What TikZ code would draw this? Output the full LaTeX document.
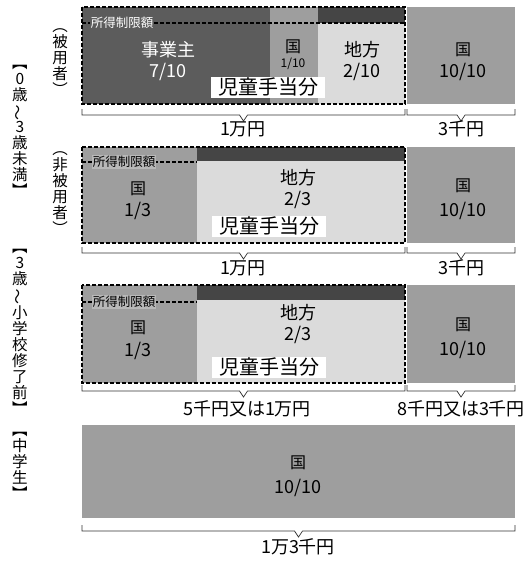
\documentclass[tikz,border=0pt]{standalone}
\usepackage{fontspec}
\setmainfont{Noto Sans CJK JP}
\usetikzlibrary{calc,positioning}
\definecolor{jigyo}{gray}{0.36}
\definecolor{kuni}{gray}{0.62}
\definecolor{chiho}{gray}{0.86}
\definecolor{seigen}{gray}{0.27}
\definecolor{seigenbg}{gray}{0.72}
\begin{document}
\begin{tikzpicture}[x=1pt,y=-1pt,lbl/.style={inner sep=0pt, font=\fontsize{18}{20}\selectfont}, scale=1]
\tikzstyle{small}=[inner sep=0pt, font=\fontsize{12}{14}\selectfont]
\tikzstyle{kanji}=[inner sep=0pt, font=\fontsize{16}{18}\selectfont]
\tikzstyle{tate}=[inner sep=0pt, align=center, font=\fontsize{15.5}{16}\selectfont]
\tikzstyle{bunbox}=[fill=white, inner sep=0pt, minimum width=114pt, minimum height=21pt, font=\fontsize{20}{22}\selectfont]
\tikzstyle{limit}=[inner sep=1pt, font=\fontsize{12.5}{14}\selectfont]
\tikzstyle{dashbox}=[draw, line width=1.6pt, dash pattern=on 4pt off 2pt]
\tikzstyle{limitline}=[line width=1.2pt, dash pattern=on 4pt off 2pt]
\tikzstyle{brk}=[line width=0.7pt, black!80]
\useasboundingbox (0,0) rectangle (526,562);
\fill[jigyo] (82,7) rectangle (270,104);
\fill[kuni] (270,7) rectangle (318,104);
\fill[seigen] (318,7) rectangle (405,23);
\fill[chiho] (318,23) rectangle (405,104);
\fill[kuni] (407,7) rectangle (515,104);
\fill[kuni] (82,147) rectangle (197,243);
\fill[seigen] (197,147) rectangle (405,161);
\fill[chiho] (197,161) rectangle (405,243);
\fill[kuni] (407,147) rectangle (515,243);
\fill[kuni] (82,285) rectangle (197,383);
\fill[seigen] (197,285) rectangle (405,300);
\fill[chiho] (197,300) rectangle (405,383);
\fill[kuni] (407,285) rectangle (515,383);
\fill[kuni] (82,425) rectangle (515,518);
\draw[limitline] (82,23) -- (405,23);
\draw[limitline] (82,162) -- (197,162);
\draw[limitline] (82,302) -- (197,302);
\node[limit, fill=jigyo, text=white] (lim1) at (122,23) {所得制限額};
\node[limit, fill=seigenbg] (lim2) at (124,162) {所得制限額};
\node[limit, fill=seigenbg] (lim3) at (124,302) {所得制限額};
\foreach \ya/\yb in {7/104,147/243,285/383}{\draw[dashbox] (82,\ya) rectangle (405,\yb);}
\foreach \xa/\xb/\y in {82/405/109,407/515/109,82/405/247,407/515/247,82/405/385,407/515/385,82/515/525}{\draw[brk] (\xa,\y) -- (\xa,\y+6) -- ({(\xa+\xb)/2-4},\y+6) -- ({(\xa+\xb)/2},\y+12) -- ({(\xa+\xb)/2+4},\y+6) -- (\xb,\y+6) -- (\xb,\y);}
% 0 - 3 years, employees
\node[lbl, text=white] (jg) at (168,50) {事業主};
\node[lbl, text=white] (jgr) at (168,72) {7/10};
\node[kanji] (k1) at (293,47) {国};
\node[small] (k1r) at (293,64) {1/10};
\node[lbl] (c1) at (362,50) {地方};
\node[lbl] (c1r) at (362,72) {2/10};
\node[bunbox] (b1) at (268,87) {児童手当分};
\node[kanji] (kr1) at (463,50) {国};
\node[lbl] (kr1r) at (463,72) {10/10};
\node[lbl] (s1) at (243,129) {1万円};
\node[lbl] (t1) at (461,129) {3千円};
% 0 - 3 years, others
\node[kanji] (k2) at (138,189) {国};
\node[lbl] (k2r) at (138,211) {1/3};
\node[lbl] (c2) at (298,178) {地方};
\node[lbl] (c2r) at (298,200) {2/3};
\node[bunbox] (b2) at (269,226) {児童手当分};
\node[kanji] (kr2) at (463,186) {国};
\node[lbl] (kr2r) at (463,211) {10/10};
\node[lbl] (s2) at (243,268) {1万円};
\node[lbl] (t2) at (461,268) {3千円};
% 3 years - primary school
\node[kanji] (k3) at (138,328) {国};
\node[lbl] (k3r) at (138,351) {1/3};
\node[lbl] (c3) at (298,313) {地方};
\node[lbl] (c3r) at (298,335) {2/3};
\node[bunbox] (b3) at (269,367) {児童手当分};
\node[kanji] (kr3) at (463,325) {国};
\node[lbl] (kr3r) at (463,350) {10/10};
\node[lbl] (s3) at (247,409) {5千円又は1万円};
\node[lbl] (t3) at (461,409) {8千円又は3千円};
% junior high
\node[kanji] (k4) at (298,463) {国};
\node[lbl] (k4r) at (298,488) {10/10};
\node[lbl] (s4) at (298,547) {1万3千円};
% side labels
\node[tate] (age1) at (20,131) {︻\\0\\歳\\\rotatebox[origin=c]{90}{～}\\3\\歳\\未\\満\\︼};
\node[tate] (emp) at (60,62) {︵\\被\\用\\者\\︶};
\node[tate] (nonemp) at (60,193) {︵\\非\\被\\用\\者\\︶};
\node[tate] (age2) at (20,332) {︻\\3\\歳\\\rotatebox[origin=c]{90}{～}\\小\\学\\校\\修\\了\\前\\︼};
\node[tate] (age3) at (20,466) {︻\\中\\学\\生\\︼};
\end{tikzpicture}
\end{document}
